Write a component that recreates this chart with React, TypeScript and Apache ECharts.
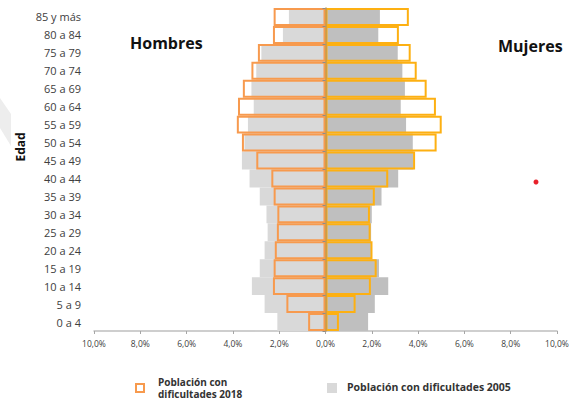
import React, { useEffect, useRef } from "react";
import * as echarts from "echarts";

const categories = [
  "0 a 4", "5 a 9", "10 a 14", "15 a 19", "20 a 24", "25 a 29", "30 a 34", "35 a 39",
  "40 a 44", "45 a 49", "50 a 54", "55 a 59", "60 a 64", "65 a 69", "70 a 74", "75 a 79",
  "80 a 84", "85 y más",
];
// values in %, bottom (0 a 4) to top (85 y más)
const hombres2005 = [2.08, 2.63, 3.18, 2.84, 2.63, 2.5, 2.55, 2.84, 3.28, 3.61, 3.5, 3.35, 3.1, 3.2, 2.99, 2.77, 1.84, 1.58];
const mujeres2005 = [1.84, 2.13, 2.71, 2.31, 1.97, 1.97, 2.0, 2.42, 3.14, 3.8, 3.77, 3.48, 3.25, 3.43, 3.32, 3.12, 2.28, 2.35];
const hombres2018 = [0.75, 1.69, 2.27, 2.24, 2.19, 2.1, 2.08, 2.24, 2.34, 2.99, 3.61, 3.83, 3.78, 3.57, 3.2, 2.92, 2.27, 2.24];
const mujeres2018 = [0.58, 1.3, 1.96, 2.21, 2.03, 1.95, 1.92, 2.13, 2.71, 3.87, 4.8, 5.02, 4.77, 4.37, 3.94, 3.68, 3.17, 3.6];
const xTicks = { min: -10, max: 10, interval: 2 };
const legendLabels = ["Población con", "dificultades 2018", "Población con dificultades 2005"];

const FONT = "'Open Sans', 'Noto Sans', sans-serif";

export default function App() {
  const ref = useRef<HTMLDivElement>(null);
  useEffect(() => {
    if (!ref.current) return;
    const chart = echarts.init(ref.current, null, { renderer: "svg" });
    const neg = (a: number[]) => a.map((v) => -v);
    const orangeM = "#F79A4E";
    const orangeF = "#FDB012";
    chart.setOption({
      animation: false,
      textStyle: { fontFamily: FONT },
      grid: { left: 94, right: 15, top: 8, bottom: 69 },
      xAxis: {
        type: "value",
        min: xTicks.min,
        max: xTicks.max,
        interval: xTicks.interval,
        splitLine: { show: false },
        axisLine: { show: true, lineStyle: { color: "#BFBFBF", width: 1.5 } },
        axisTick: { show: true, length: 3, lineStyle: { color: "#A6A6A6" } },
        axisLabel: {
          fontSize: 8.5,
          color: "#404040",
          margin: 8,
          fontFamily: FONT,
          formatter: (v: number) => Math.abs(v).toFixed(1).replace(".", ",") + "%",
        },
      },
      yAxis: [
        {
          type: "category",
          data: categories,
          axisLine: { show: false, onZero: false },
          axisTick: { show: false },
          axisLabel: { fontSize: 11, color: "#404040", margin: 13, fontFamily: FONT },
        },
        {
          type: "category",
          data: categories,
          position: "left",
          axisLine: { show: true, onZero: true, lineStyle: { color: "#C4964E", width: 1.5 } },
          axisTick: { show: true, length: 3, lineStyle: { color: "#8C8C8C" } },
          axisLabel: { show: false },
          z: 10,
        },
      ],
      series: [
        {
          type: "bar",
          name: "Hombres 2005",
          data: neg(hombres2005),
          barGap: "-100%",
          barCategoryGap: "0%",
          itemStyle: { color: "#D9D9D9" },
        },
        {
          type: "bar",
          name: "Mujeres 2005",
          data: mujeres2005,
          barGap: "-100%",
          barCategoryGap: "0%",
          itemStyle: { color: "#BFBFBF" },
        },
        {
          type: "bar",
          name: "Hombres 2018",
          data: neg(hombres2018),
          barGap: "-100%",
          barCategoryGap: "0%",
          itemStyle: { color: "rgba(0,0,0,0)", borderColor: orangeM, borderWidth: 2 },
        },
        {
          type: "bar",
          name: "Mujeres 2018",
          data: mujeres2018,
          barGap: "-100%",
          barCategoryGap: "0%",
          itemStyle: { color: "rgba(0,0,0,0)", borderColor: orangeF, borderWidth: 2 },
        },
      ],
      graphic: [
        {
          type: "polygon",
          shape: { points: [[0, 98], [11, 114], [11, 146], [0, 128]] },
          style: { fill: "#EDEDED" },
          silent: true,
        },
        {
          type: "text",
          left: 130,
          top: 35,
          style: { text: "Hombres", font: `bold 16px ${FONT}`, fill: "#111" },
        },
        {
          type: "text",
          left: 498,
          top: 38,
          style: { text: "Mujeres", font: `bold 16px ${FONT}`, fill: "#111" },
        },
        {
          type: "text",
          x: 20,
          y: 147,
          rotation: Math.PI / 2,
          style: {
            text: "Edad",
            font: `bold 12px ${FONT}`,
            fill: "#111",
            align: "center",
            verticalAlign: "middle",
          },
        },
        {
          type: "circle",
          shape: { cx: 536, cy: 182, r: 2.5 },
          style: { fill: "#E8202A" },
        },
        {
          type: "rect",
          shape: { x: 136, y: 384, width: 8, height: 8 },
          style: { fill: "#fff", stroke: orangeM, lineWidth: 2 },
        },
        {
          type: "text",
          x: 158,
          y: 382,
          style: {
            text: legendLabels[0],
            font: `bold 10px ${FONT}`,
            fill: "#333",
            verticalAlign: "middle",
          },
        },
        {
          type: "text",
          x: 158,
          y: 394,
          style: {
            text: legendLabels[1],
            font: `bold 10px ${FONT}`,
            fill: "#333",
            verticalAlign: "middle",
          },
        },
        {
          type: "rect",
          shape: { x: 327, y: 383, width: 10, height: 10 },
          style: { fill: "#D9D9D9" },
        },
        {
          type: "text",
          x: 347,
          y: 386.5,
          style: {
            text: legendLabels[2],
            font: `bold 10.5px ${FONT}`,
            fill: "#333",
            verticalAlign: "middle",
          },
        },
      ],
    });
    return () => chart.dispose();
  }, []);
  return (
    <div
      ref={ref}
      style={{ position: "absolute", left: 0, top: 0, width: 572, height: 400 }}
    />
  );
}
